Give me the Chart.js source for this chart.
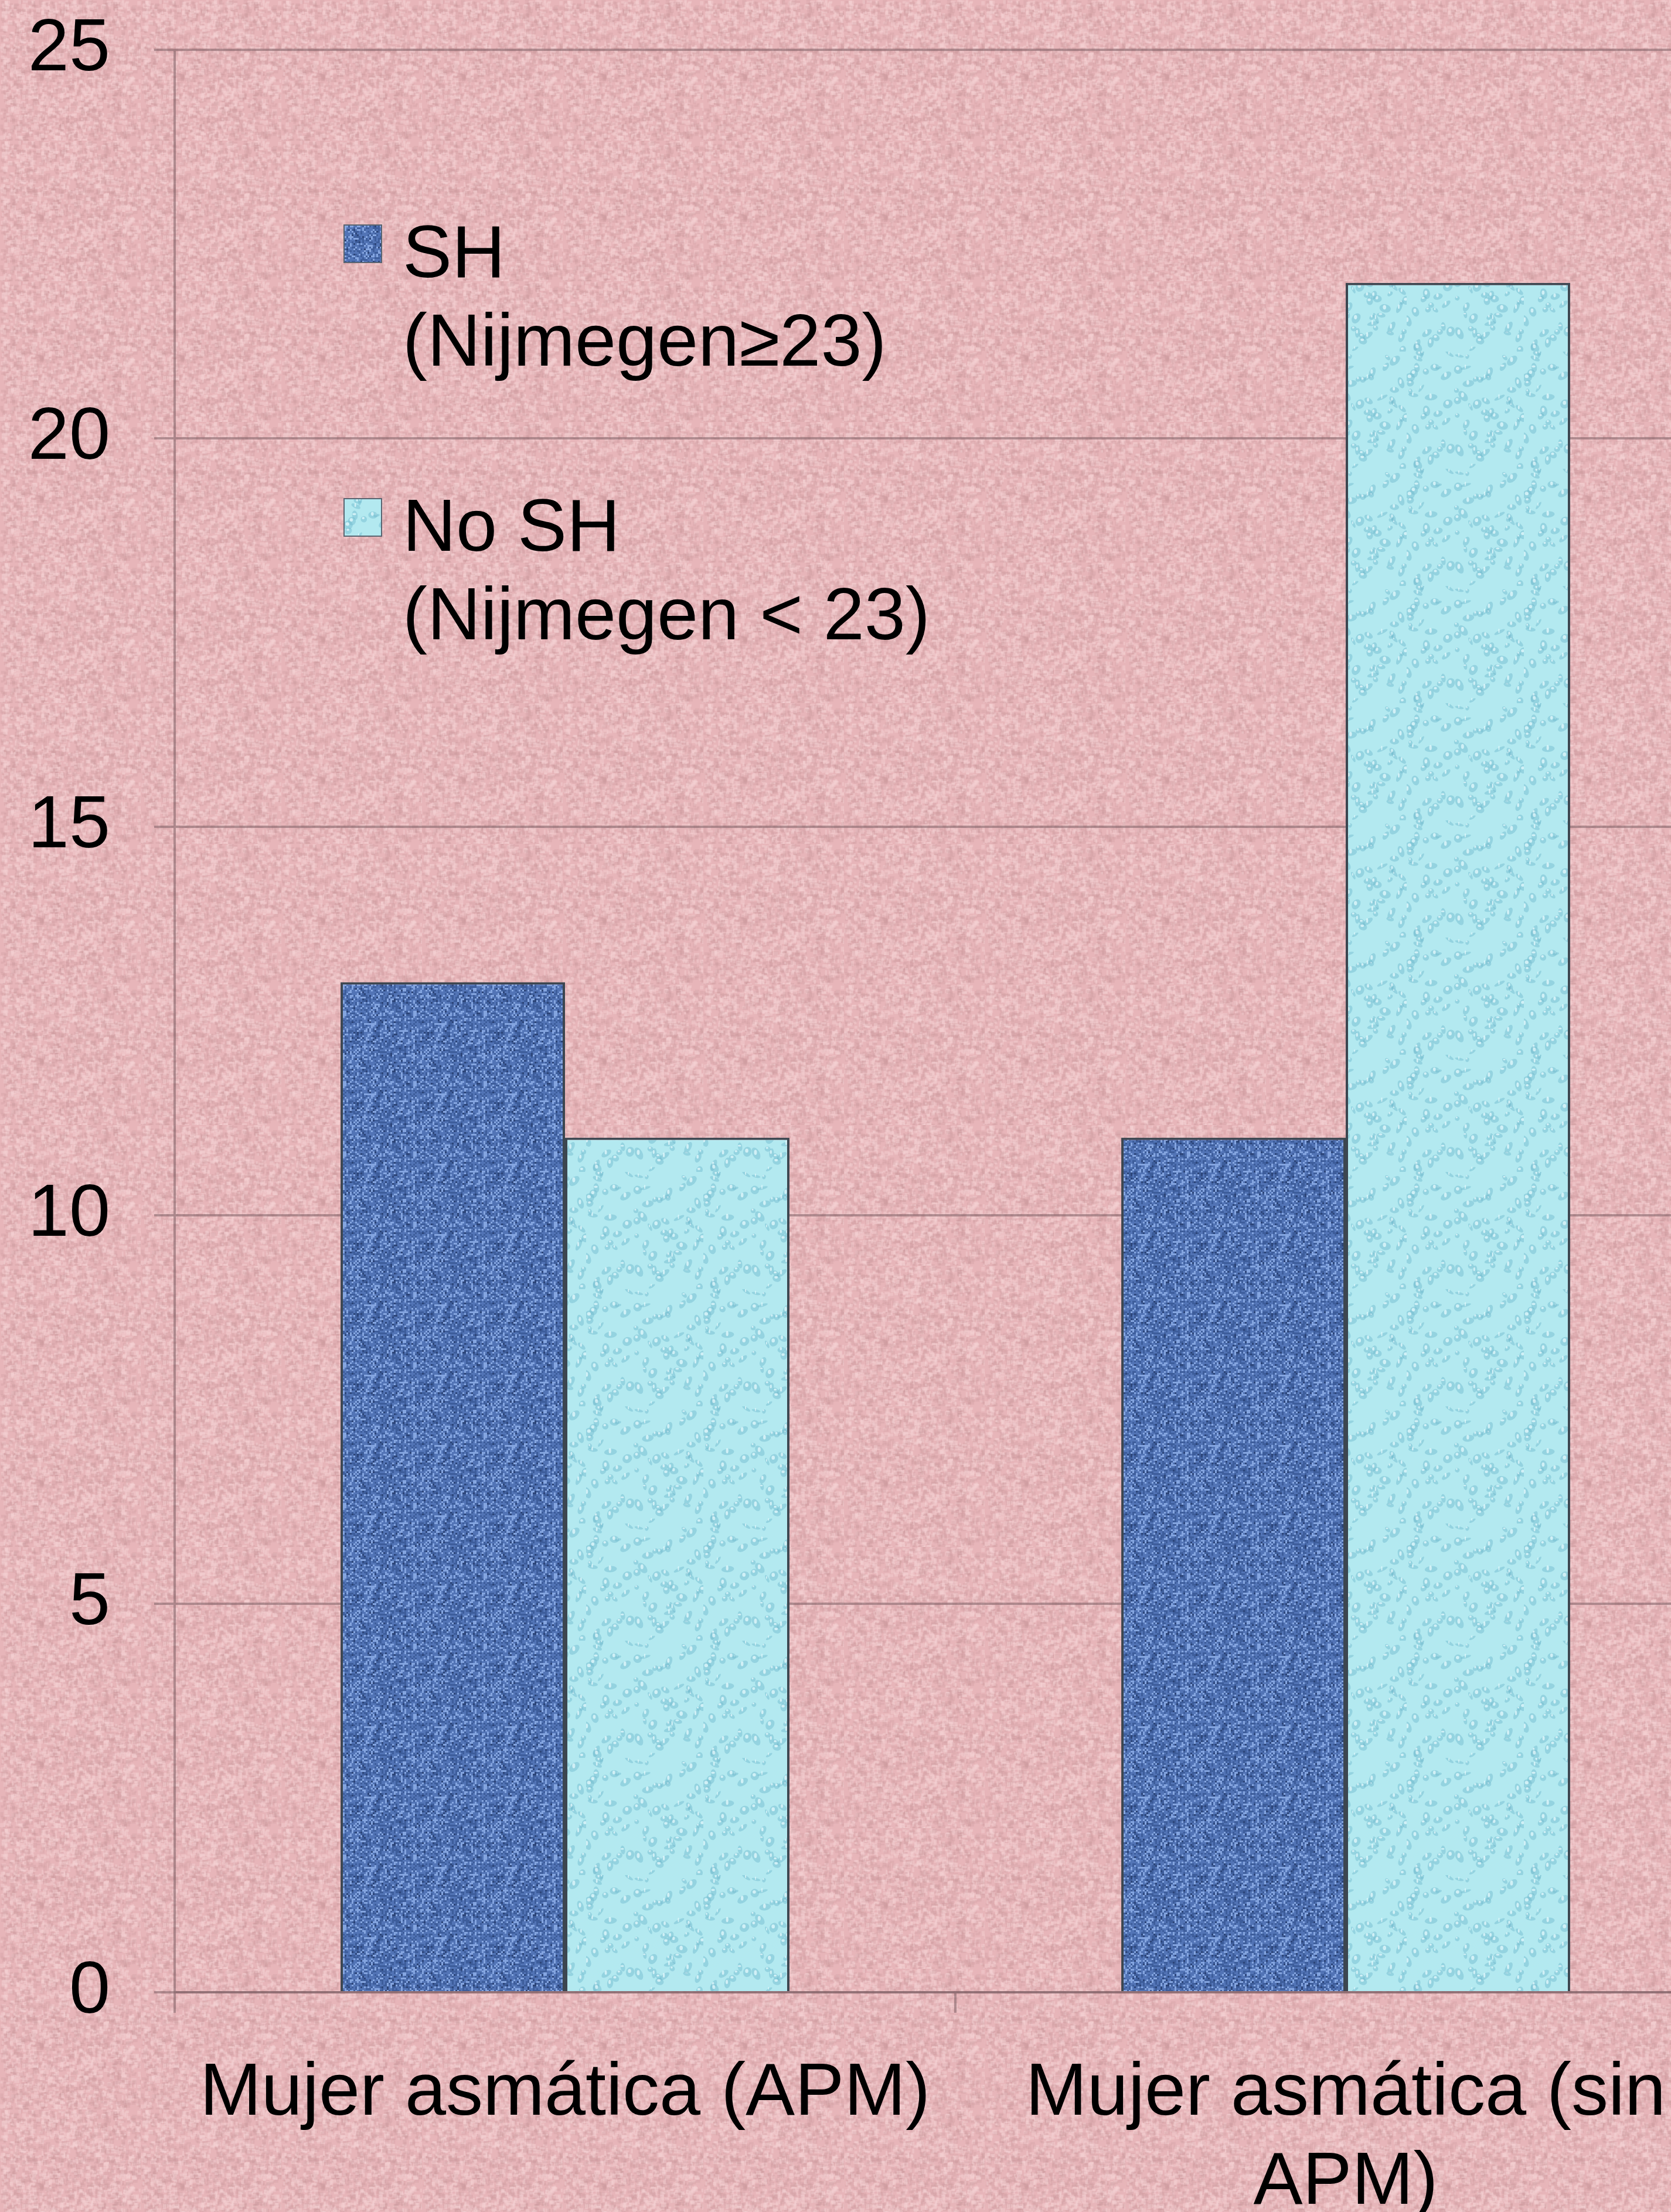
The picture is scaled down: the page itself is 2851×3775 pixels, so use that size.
<!DOCTYPE html>
<html>
<head>
<meta charset="utf-8">
<script src="https://cdn.jsdelivr.net/npm/chart.js@4.4.0/dist/chart.umd.min.js"></script>
<style>
  html, body { margin: 0; padding: 0; width: 2851px; height: 3775px; overflow: hidden; background: #e6b4b8; }
  #wrap { position: relative; width: 3000px; height: 3775px; }
  #chart { position: absolute; left: 0; top: 0; }
  #legend {
    position: absolute; left: 586px; top: 354px;
    font-family: "Liberation Sans", Arial, sans-serif; font-size: 126px; line-height: 151px; color: #000;
  }
  .item { position: relative; padding-left: 101px; margin-bottom: 165px; white-space: nowrap; }
  .box { position: absolute; left: 0; top: 29px; width: 66px; height: 66px; box-sizing: border-box; border: 2px solid #5a6470; }
</style>
</head>
<body>
<div id="wrap">
  <canvas id="chart" width="3000" height="3775"></canvas>
  <div id="legend"></div>
</div>
<script>
// data
const categories = [['Mujer asmática (APM)'], ['Mujer asmática (sin', 'APM)']];
const seriesNames = [['SH', '(Nijmegen≥23)'], ['No SH', '(Nijmegen < 23)']];
const shValues = [13, 11];
const noShValues = [11, 22];
const yTickValues = [0, 5, 10, 15, 20, 25];

const gridColor = 'rgba(125, 95, 100, 0.55)';
const font = { family: '"Liberation Sans", Arial, sans-serif', size: 126, lineHeight: 1.2 };

// small seeded generator, only used for the surface textures
function seeded(seed) {
    return function () {
        seed |= 0; seed = seed + 0x6D2B79F5 | 0;
        let t = Math.imul(seed ^ seed >>> 15, 1 | seed);
        t = t + Math.imul(t ^ t >>> 7, 61 | t) ^ t;
        return ((t ^ t >>> 14) >>> 0) / 4294967296;
    };
}

function bgTile() {
    const c = document.createElement('canvas');
    c.width = c.height = 240;
    const g = c.getContext('2d');
    const r = seeded(7);
    g.fillStyle = '#e7b5b9';
    g.fillRect(0, 0, 240, 240);
    for (let i = 0; i < 2600; i++) {
        const light = r() > 0.5;
        g.fillStyle = light ? 'rgba(245,208,211,0.45)' : 'rgba(205,155,160,0.3)';
        g.fillRect(r() * 240, r() * 240, 3 + r() * 6, 3 + r() * 6);
    }
    return c;
}

function blueTile() {
    const c = document.createElement('canvas');
    c.width = c.height = 120;
    const g = c.getContext('2d');
    const r = seeded(21);
    g.fillStyle = '#5274b6';
    g.fillRect(0, 0, 120, 120);
    for (let y = 0; y < 120; y += 3) {
        for (let x = 0; x < 120; x += 3) {
            const v = r();
            if (v < 0.3) g.fillStyle = '#3d5d9b';
            else if (v < 0.52) g.fillStyle = '#84a5e0';
            else if (v < 0.57) g.fillStyle = '#2c4579';
            else continue;
            g.fillRect(x, y, 3, 3);
        }
    }
    return c;
}

function cyanTile() {
    const c = document.createElement('canvas');
    c.width = c.height = 200;
    const g = c.getContext('2d');
    const r = seeded(42);
    g.fillStyle = '#b3e9f0';
    g.fillRect(0, 0, 200, 200);
    for (let i = 0; i < 90; i++) {
        const x = r() * 200, y = r() * 200, w = 4 + r() * 12, h = 6 + r() * 16;
        g.fillStyle = 'rgba(110,185,205,0.45)';
        g.beginPath(); g.ellipse(x, y, w / 2, h / 2, r() * 3, 0, Math.PI * 2); g.fill();
        g.fillStyle = 'rgba(235,252,255,0.7)';
        g.beginPath(); g.ellipse(x - 1, y - 2, w / 5, h / 5, 0, 0, Math.PI * 2); g.fill();
    }
    return c;
}

const canvas = document.getElementById('chart');
const ctx = canvas.getContext('2d');
const bg = bgTile(), blue = blueTile(), cyan = cyanTile();
const fills = [ctx.createPattern(blue, 'repeat'), ctx.createPattern(cyan, 'repeat')];
const tiles = [blue, cyan];

const backdrop = {
    id: 'backdrop',
    beforeDraw(chart) {
        const c = chart.ctx;
        c.save();
        c.fillStyle = c.createPattern(bg, 'repeat');
        c.fillRect(0, 0, chart.width, chart.height);
        c.restore();
    }
};

const chart = new Chart(canvas, {
    type: 'bar',
    data: {
        labels: categories,
        datasets: [
            { label: seriesNames[0].join(' '), data: shValues, backgroundColor: fills[0] },
            { label: seriesNames[1].join(' '), data: noShValues, backgroundColor: fills[1] }
        ].map(d => Object.assign(d, {
            borderColor: '#3c4650',
            borderWidth: 4,
            categoryPercentage: 0.575,
            barPercentage: 1.0
        }))
    },
    options: {
        responsive: false,
        animation: false,
        devicePixelRatio: 1,
        layout: { padding: { left: 0, top: 85, right: 38, bottom: 0 } },
        plugins: {
            legend: { display: false },
            tooltip: { enabled: false }
        },
        scales: {
            x: {
                grid: { drawOnChartArea: false, drawTicks: true, tickLength: 35, color: gridColor, lineWidth: 4, offset: true },
                border: { color: gridColor, width: 4 },
                ticks: { font: font, color: '#000', padding: 64, maxRotation: 0, autoSkip: false },
                afterFit(scale) { scale.height = 375; scale.paddingLeft = 0; scale.paddingRight = 0; }
            },
            y: {
                min: 0,
                max: 25,
                afterBuildTicks(scale) { scale.ticks = yTickValues.map(v => ({ value: v })); },
                grid: { color: gridColor, lineWidth: 4, tickLength: 35 },
                border: { color: gridColor, width: 4 },
                ticks: { font: font, color: '#000', padding: 75 },
                afterFit(scale) { scale.width = 298; scale.paddingTop = 0; scale.paddingBottom = 0; }
            }
        }
    },
    plugins: [backdrop]
});

// legend drawn as page text, placed over the plot like in the original
const legend = document.getElementById('legend');
seriesNames.forEach(function (lines, i) {
    const item = document.createElement('div');
    item.className = 'item';
    const box = document.createElement('span');
    box.className = 'box';
    box.style.backgroundImage = 'url(' + tiles[i].toDataURL() + ')';
    item.appendChild(box);
    lines.forEach(function (t, j) {
        if (j) item.appendChild(document.createElement('br'));
        item.appendChild(document.createTextNode(t));
    });
    legend.appendChild(item);
});
</script>
</body>
</html>
